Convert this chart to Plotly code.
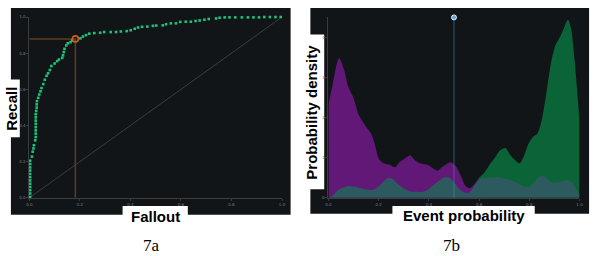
import plotly.graph_objects as go

# ---------------- data ----------------
roc_fallout = [0.0, 0.003, 0.003, 0.003, 0.003, 0.003, 0.003, 0.003, 0.003, 0.003, 0.003, 0.003, 0.003,
               0.010, 0.013, 0.016, 0.018, 0.023, 0.025, 0.025, 0.025, 0.025, 0.025, 0.025, 0.025, 0.025,
               0.027, 0.029, 0.029, 0.030, 0.035, 0.039, 0.044, 0.048, 0.055, 0.061, 0.068, 0.074, 0.081,
               0.087, 0.100, 0.110, 0.117, 0.130, 0.133, 0.136, 0.139, 0.146, 0.152, 0.163, 0.169,
               0.202, 0.212, 0.224, 0.237, 0.257, 0.280, 0.296, 0.322, 0.343, 0.362, 0.385, 0.401, 0.417,
               0.430, 0.446, 0.467, 0.489, 0.502, 0.528, 0.541, 0.560, 0.580, 0.597, 0.619, 0.639, 0.658,
               0.674, 0.693, 0.710, 0.739, 0.753, 0.773, 0.792, 0.815, 0.841, 0.865, 0.887, 0.909, 0.930,
               0.952, 0.974, 0.995]
roc_recall = [0.0, 0.005, 0.024, 0.042, 0.060, 0.078, 0.096, 0.114, 0.132, 0.151, 0.168, 0.187, 0.205,
              0.228, 0.255, 0.273, 0.291, 0.318, 0.336, 0.355, 0.373, 0.391, 0.409, 0.427, 0.445, 0.463,
              0.481, 0.499, 0.517, 0.535, 0.553, 0.571, 0.589, 0.607, 0.629, 0.653, 0.675, 0.689, 0.707,
              0.729, 0.743, 0.756, 0.765, 0.774, 0.788, 0.806, 0.824, 0.843, 0.855, 0.861, 0.870,
              0.882, 0.892, 0.900, 0.908, 0.911, 0.913, 0.917, 0.917, 0.917, 0.920, 0.922, 0.927, 0.935,
              0.942, 0.946, 0.947, 0.951, 0.953, 0.954, 0.960, 0.965, 0.965, 0.973, 0.974, 0.974, 0.978,
              0.981, 0.985, 0.989, 0.992, 0.996, 0.998, 0.998, 0.998, 0.998, 0.998, 0.998, 0.998, 1.0,
              1.0, 1.0, 1.0]
chosen_fallout = [0.182]
chosen_recall = [0.879]
diag = [0.0, 1.0]

purple_x = [0.0, 0.016, 0.042, 0.062, 0.079, 0.10, 0.12, 0.147, 0.17, 0.184, 0.2, 0.22, 0.245, 0.265,
            0.285, 0.305, 0.325, 0.344, 0.37, 0.396, 0.416, 0.436, 0.455, 0.488, 0.508, 0.528, 0.547,
            0.564, 0.58, 0.6, 0.61, 0.62, 1.0]
purple_y = [2.33, 2.8, 3.48, 3.2, 2.77, 2.49, 2.08, 1.8, 1.6, 1.35, 0.98, 0.86, 0.82, 0.76,
            0.9, 0.98, 1.06, 0.94, 0.85, 0.82, 0.74, 0.68, 0.78, 0.89, 0.78, 0.54, 0.29,
            0.24, 0.33, 0.46, 0.25, 0.0, 0.0]

green_x = [0.0, 0.1, 0.2, 0.3, 0.4, 0.5, 0.54, 0.56, 0.58, 0.6, 0.62, 0.646, 0.665, 0.685, 0.705,
           0.724, 0.744, 0.761, 0.777, 0.797, 0.816, 0.832, 0.849, 0.869, 0.888, 0.906, 0.924,
           0.941, 0.954, 0.967, 0.98, 0.993, 1.0]
green_y = [0.0, 0.05, 0.08, 0.08, 0.08, 0.08, 0.1, 0.15, 0.3, 0.5, 0.62, 0.86, 1.02, 1.19, 1.24,
           1.07, 0.94, 0.86, 1.02, 1.35, 1.53, 1.6, 1.92, 2.65, 3.42, 3.83, 4.03,
           4.28, 4.44, 4.2, 3.46, 2.49, 1.9]

teal_x = [0.0, 0.016, 0.035, 0.055, 0.075, 0.10, 0.127, 0.154, 0.18, 0.2, 0.22, 0.24, 0.258, 0.278,
          0.302, 0.324, 0.35, 0.377, 0.396, 0.416, 0.436, 0.462, 0.482, 0.5, 0.52, 0.54, 0.56, 0.58,
          0.6, 0.626, 0.652, 0.678, 0.705, 0.73, 0.757, 0.777, 0.797, 0.816, 0.836, 0.856, 0.875,
          0.895, 0.911, 0.927, 0.948, 0.967, 0.984, 1.0]
teal_y = [0.0, 0.05, 0.17, 0.25, 0.29, 0.28, 0.24, 0.21, 0.2, 0.28, 0.41, 0.5, 0.46, 0.33,
          0.23, 0.16, 0.15, 0.15, 0.2, 0.31, 0.41, 0.51, 0.5, 0.39, 0.23, 0.13, 0.13, 0.29,
          0.46, 0.5, 0.5, 0.52, 0.48, 0.43, 0.35, 0.29, 0.27, 0.37, 0.5, 0.55, 0.46,
          0.37, 0.39, 0.41, 0.44, 0.41, 0.25, 0.09]

threshold = [0.5]
threshold_top = [4.5]

x_ticks = [0.0, 0.2, 0.4, 0.6, 0.8, 1.0]
x_tick_text = ["0.0", "0.2", "0.4", "0.6", "0.8", "1.0"]
dens_y_ticks = [0, 1, 2, 3, 4]
dens_y_text = ["0", "1", "2", "3", "4"]

# ---------------- figure ----------------
W, H = 600, 256
def fx(px):
    return px / W
def fy(py):
    return 1 - py / H

fig = go.Figure()

# Left: ROC
fig.add_trace(go.Scatter(x=diag, y=diag, mode="lines", line=dict(color="#3a3d40", width=1),
                         xaxis="x", yaxis="y", hoverinfo="skip"))
fig.add_trace(go.Scatter(x=[0, chosen_fallout[0], chosen_fallout[0]],
                         y=[chosen_recall[0], chosen_recall[0], 0], mode="lines",
                         line=dict(color="#5e3d22", width=1.5), xaxis="x", yaxis="y"))
fig.add_trace(go.Scatter(x=roc_fallout, y=roc_recall, mode="markers",
                         marker=dict(symbol="square", size=2.6, color="#1cc27a", line=dict(width=0)),
                         xaxis="x", yaxis="y", cliponaxis=False))
fig.add_trace(go.Scatter(x=chosen_fallout, y=chosen_recall, mode="markers",
                         marker=dict(symbol="circle-open", size=6, color="#c8601e", line=dict(width=1.6)),
                         xaxis="x", yaxis="y", cliponaxis=False))

# Right: density
fig.add_trace(go.Scatter(x=green_x, y=green_y, mode="lines", fill="tozeroy",
                         line=dict(color="#0b6437", width=0, shape="spline", smoothing=0.8),
                         fillcolor="#0b6437", xaxis="x2", yaxis="y2"))
fig.add_trace(go.Scatter(x=purple_x, y=purple_y, mode="lines", fill="tozeroy",
                         line=dict(color="#621877", width=0, shape="spline", smoothing=0.8),
                         fillcolor="#621877", xaxis="x2", yaxis="y2"))
fig.add_trace(go.Scatter(x=teal_x, y=teal_y, mode="lines", fill="tozeroy",
                         line=dict(color="#2d5a5f", width=0, shape="spline", smoothing=0.8),
                         fillcolor="#2d5a5f", xaxis="x2", yaxis="y2"))
fig.add_trace(go.Scatter(x=[threshold[0], threshold[0]], y=[0, threshold_top[0]], mode="lines",
                         line=dict(color="rgba(70,150,190,0.35)", width=1.5), xaxis="x2", yaxis="y2"))
fig.add_trace(go.Scatter(x=threshold, y=threshold_top, mode="markers",
                         marker=dict(symbol="circle", size=5, color="#5aaae0",
                                     line=dict(color="#e8e8e8", width=1)),
                         xaxis="x2", yaxis="y2", cliponaxis=False))

axis_common = dict(showgrid=False, zeroline=False, showline=True, linecolor="#3a3d40", linewidth=1,
                   ticks="outside", ticklen=2, tickcolor="#3a3d40",
                   tickfont=dict(size=4, color="#7a7d80", family="DejaVu Sans"))

fig.update_layout(
    width=W, height=H, margin=dict(l=0, r=0, t=0, b=0),
    paper_bgcolor="white", plot_bgcolor="rgba(0,0,0,0)", showlegend=False,
    xaxis=dict(domain=[fx(26.7), fx(282.3)], range=[0, 1], anchor="y",
               tickvals=x_ticks, ticktext=x_tick_text, **axis_common),
    yaxis=dict(domain=[fy(198.7), fy(14.3)], range=[0, 1], anchor="x",
               tickvals=x_ticks, ticktext=x_tick_text, **axis_common),
    xaxis2=dict(domain=[fx(329.3), fx(583.3)], range=[0, 1], anchor="y2",
                tickvals=x_ticks, ticktext=x_tick_text, **axis_common),
    yaxis2=dict(domain=[fy(198.7), fy(14.3)], range=[0, 4.51], anchor="x2",
                tickvals=dens_y_ticks, ticktext=dens_y_text, **axis_common),
)

panel = "#121518"
shapes = [
    dict(type="rect", xref="paper", yref="paper", x0=fx(8), x1=fx(291), y0=fy(216), y1=fy(5),
         fillcolor=panel, line=dict(width=0), layer="below"),
    dict(type="rect", xref="paper", yref="paper", x0=fx(311), x1=fx(593), y0=fy(215), y1=fy(5),
         fillcolor=panel, line=dict(width=0), layer="below"),
    dict(type="rect", xref="paper", yref="paper", x0=fx(0), x1=fx(17), y0=fy(137), y1=fy(78),
         fillcolor="white", line=dict(width=0), layer="below"),
    dict(type="rect", xref="paper", yref="paper", x0=fx(121), x1=fx(187), y0=fy(230), y1=fy(207),
         fillcolor="white", line=dict(width=0), layer="below"),
    dict(type="rect", xref="paper", yref="paper", x0=fx(300), x1=fx(325), y0=fy(190), y1=fy(32),
         fillcolor="white", line=dict(width=0), layer="below"),
    dict(type="rect", xref="paper", yref="paper", x0=fx(394), x1=fx(538), y0=fy(230), y1=fy(207),
         fillcolor="white", line=dict(width=0), layer="below"),
]
fig.update_layout(shapes=shapes)

lab = dict(family="Liberation Sans, Arial, sans-serif", size=15, color="black")
cap = dict(family="Liberation Serif, Times New Roman, serif", size=17, color="black")
fig.add_annotation(x=fx(8.5), y=fy(107.5), xref="paper", yref="paper", text="<b>Recall</b>",
                   textangle=-90, showarrow=False, font=lab, xanchor="center", yanchor="middle")
fig.add_annotation(x=fx(154), y=fy(218), xref="paper", yref="paper", text="<b>Fallout</b>",
                   showarrow=False, font=lab, xanchor="center", yanchor="middle")
fig.add_annotation(x=fx(312.5), y=fy(111), xref="paper", yref="paper", text="<b>Probability density</b>",
                   textangle=-90, showarrow=False, font=lab, xanchor="center", yanchor="middle")
fig.add_annotation(x=fx(466), y=fy(217), xref="paper", yref="paper", text="<b>Event probability</b>",
                   showarrow=False, font=lab, xanchor="center", yanchor="middle")
fig.add_annotation(x=fx(150), y=fy(247), xref="paper", yref="paper", text="7a",
                   showarrow=False, font=cap, xanchor="center", yanchor="middle")
fig.add_annotation(x=fx(454), y=fy(247), xref="paper", yref="paper", text="7b",
                   showarrow=False, font=cap, xanchor="center", yanchor="middle")

fig.write_html("out.html")
